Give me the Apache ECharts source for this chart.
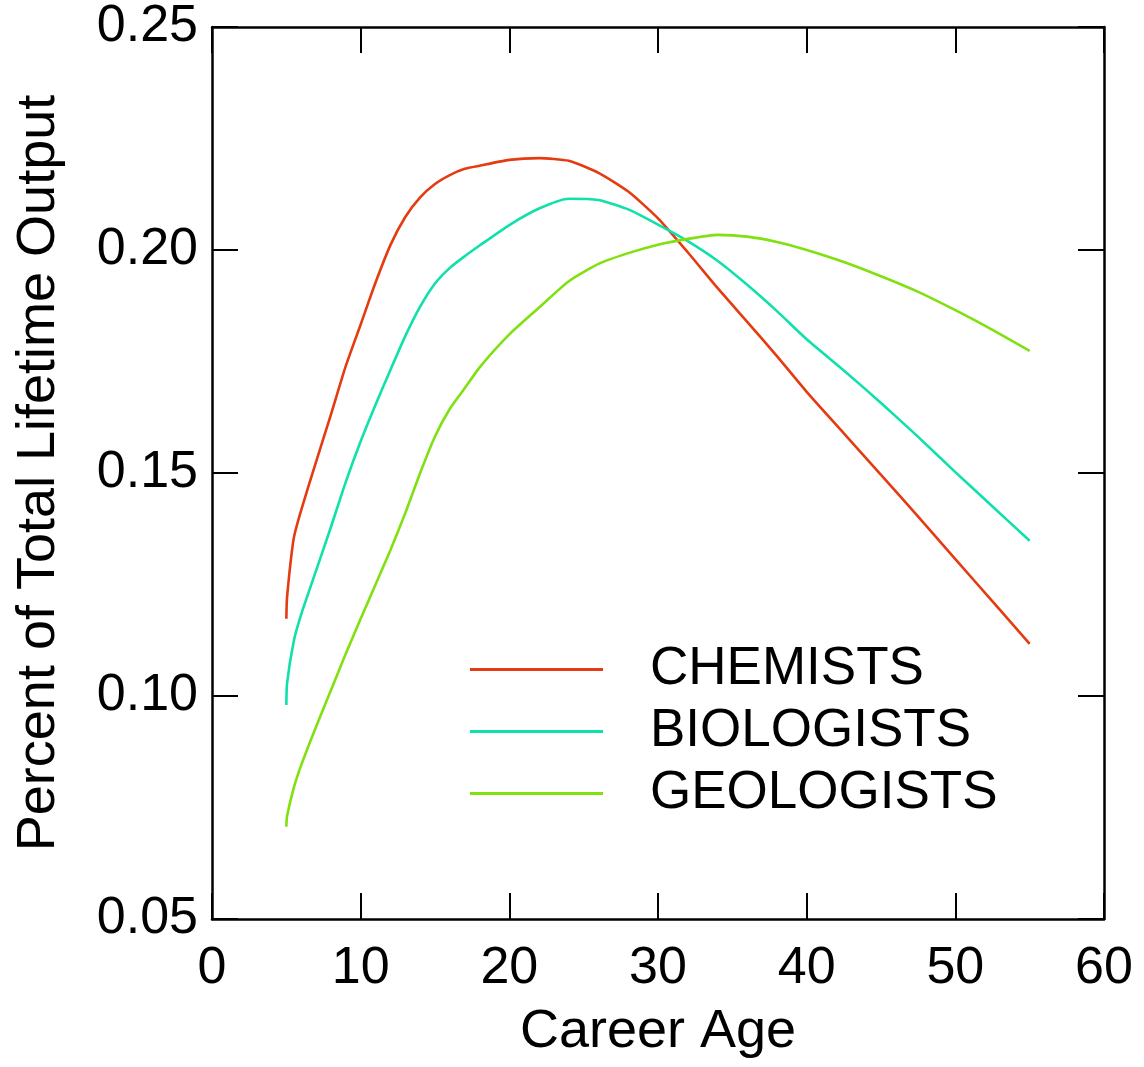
<!DOCTYPE html>
<html>
<head>
<meta charset="utf-8">
<title>Career Age vs Output</title>
<script src="https://cdn.jsdelivr.net/npm/echarts@6/dist/echarts.min.js"></script>
<style>
  html, body { margin: 0; padding: 0; background: #ffffff; }
  #chart { width: 1144px; height: 1067px; }
</style>
</head>
<body>
<div id="chart"></div>
<script>
// Career age (years) at which each curve is sampled
const careerAge = [5, 5.05, 5.5, 6, 7, 8, 9, 10, 11, 12, 13, 14, 15, 16, 17, 18,
  20, 22, 24, 26, 28, 30, 32, 34, 36, 38, 40, 42.5, 45, 47.5, 50, 52.5, 55];

// Share of total lifetime output by career age
const chemists = [0.1173, 0.1222, 0.1354, 0.1417, 0.1525, 0.1631, 0.1740, 0.1833,
  0.1927, 0.2011, 0.2074, 0.2118, 0.2148, 0.2168, 0.2182, 0.2189,
  0.2202, 0.2206, 0.2200, 0.2173, 0.2131, 0.2071, 0.1995, 0.1915, 0.1839, 0.1762,
  0.1682, 0.1589, 0.1496, 0.1402, 0.1307, 0.1212, 0.1117];

const biologists = [0.0980, 0.1029, 0.1123, 0.1183, 0.1281, 0.1379, 0.1480, 0.1571,
  0.1653, 0.1731, 0.1807, 0.1873, 0.1925, 0.1960, 0.1986, 0.2010,
  0.2056, 0.2093, 0.2115, 0.2112, 0.2091, 0.2057, 0.2020, 0.1976, 0.1922, 0.1863,
  0.1800, 0.1730, 0.1657, 0.1581, 0.1502, 0.1425, 0.1348];

const geologists = [0.0707, 0.0731, 0.0794, 0.0845, 0.0931, 0.1013, 0.1095, 0.1173,
  0.1250, 0.1327, 0.1410, 0.1500, 0.1582, 0.1644, 0.1690, 0.1737,
  0.1811, 0.1871, 0.1930, 0.1969, 0.1993, 0.2012, 0.2025, 0.2034, 0.2030, 0.2018,
  0.2000, 0.1973, 0.1941, 0.1906, 0.1865, 0.1821, 0.1774];

const seriesNames = ['CHEMISTS', 'BIOLOGISTS', 'GEOLOGISTS'];
const seriesValues = [chemists, biologists, geologists];
const seriesColors = ['#e53b10', '#10e0aa', '#80e010'];

const FONT = '"Liberation Sans", Arial, Helvetica, sans-serif';
const FS = 52;
const NAME_FS = 54;

const chart = echarts.init(document.getElementById('chart'), null, { renderer: 'canvas' });

const frameLine = { show: true, onZero: false, lineStyle: { color: '#000', width: 2.5 } };
const inTick = { show: true, inside: true, length: 26, lineStyle: { color: '#000', width: 2 } };

const option = {
  backgroundColor: '#ffffff',
  animation: false,
  textStyle: { fontFamily: FONT },
  grid: { left: 212, top: 27, right: 40, bottom: 148, containLabel: false },
  legend: {
    orient: 'vertical',
    left: 470,
    top: 643,
    padding: 0,
    itemWidth: 133,
    itemHeight: 3,
    itemGap: 9,
    icon: 'rect',
    data: seriesNames.map((n, i) => ({ name: n, itemStyle: { color: seriesColors[i] } })),
    textStyle: { fontFamily: FONT, fontSize: 53, color: '#000', padding: [0, 0, 0, 42] }
  },
  xAxis: [
    {
      type: 'value', min: 0, max: 60, interval: 10, position: 'bottom',
      name: 'Career Age', nameLocation: 'middle', nameGap: 86,
      nameTextStyle: { fontFamily: FONT, fontSize: NAME_FS, color: '#000' },
      axisLine: frameLine, axisTick: inTick,
      axisLabel: { color: '#000', fontFamily: FONT, fontSize: FS, margin: 24 },
      splitLine: { show: false }
    },
    {
      type: 'value', min: 0, max: 60, interval: 10, position: 'top',
      axisLine: frameLine, axisTick: inTick, axisLabel: { show: false }, splitLine: { show: false }
    }
  ],
  yAxis: [
    {
      type: 'value', min: 0.05, max: 0.25, interval: 0.05, position: 'left',
      name: 'Percent of Total Lifetime Output', nameLocation: 'middle', nameGap: 146,
      nameTextStyle: { fontFamily: FONT, fontSize: NAME_FS, color: '#000' },
      axisLine: frameLine, axisTick: inTick,
      axisLabel: { color: '#000', fontFamily: FONT, fontSize: FS, margin: 14,
        formatter: v => v.toFixed(2) },
      splitLine: { show: false }
    },
    {
      type: 'value', min: 0.05, max: 0.25, interval: 0.05, position: 'right',
      axisLine: frameLine, axisTick: inTick, axisLabel: { show: false }, splitLine: { show: false }
    }
  ],
  series: seriesNames.map((name, i) => ({
    name: name,
    type: 'line',
    xAxisIndex: 0,
    yAxisIndex: 0,
    smooth: 0.2,
    symbol: 'none',
    color: seriesColors[i],
    lineStyle: { color: seriesColors[i], width: 2.6 },
    data: careerAge.map((a, k) => [a, seriesValues[i][k]])
  }))
};

chart.setOption(option);
</script>
</body>
</html>
